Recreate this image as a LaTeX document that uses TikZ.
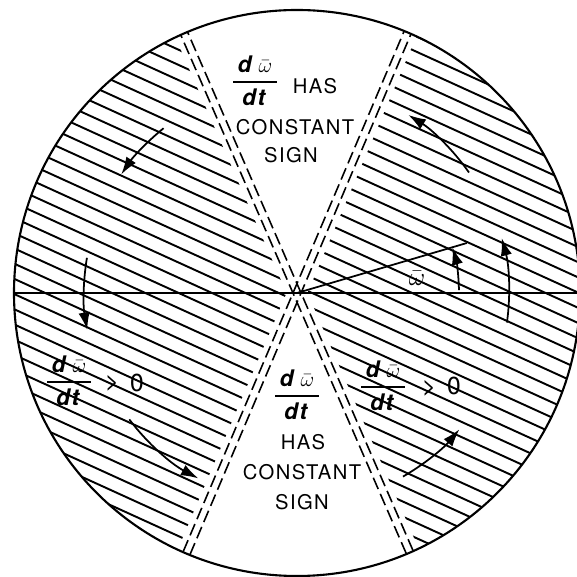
\documentclass[tikz,border=0pt]{standalone}
\usepackage{amsmath}
\usepackage{fontspec}
\setmainfont{TeX Gyre Heros}[LetterSpace=7]
\usetikzlibrary{arrows.meta,calc}

\newcommand{\dwdt}{$\genfrac{}{}{1.2pt}{0}{\hbox to 25pt{\hss\textit{d}\kern2.5pt$\bar\omega$\hss}}{\hbox{\textit{dt}}}$}

\tikzset{
    hatch/.style={line width=1.1pt},
    wedgeline/.style={line width=0.9pt, dash pattern=on 7pt off 3pt},
    rotarrow/.style={line width=1pt, -{Latex[length=10pt,width=6.5pt]}},
    lbl/.style={inner sep=0pt, font=\fontsize{11.5}{13}\selectfont},
    fraclbl/.style={inner sep=0pt, font=\fontsize{13}{15}\selectfont\bfseries},
    biglbl/.style={inner sep=0pt, font=\fontsize{14}{16}\selectfont}
}

\begin{document}
\begin{tikzpicture}[x=0.02cm,y=0.02cm]
                \useasboundingbox (-297,-284) rectangle (280,293);
                \coordinate (O) at (0,0);

                        % Hatched regions left and right
                            \begin{scope}
                                \clip (O) circle (283);
                                \clip (180.25:10.5) -- +(113.5:500) -- (-600,460) -- (-600,-460) -- ($(180.25:10.5)+(247:500)$) -- cycle;
                                \foreach \k in {-12,...,30} {
                                    \pgfmathsetmacro\hb{-129.9+15.2*\k}
                                    \draw[hatch] (-300,{136.7+\hb}) -- (300,{-136.7+\hb});
                                }
                            \end{scope}
                            \begin{scope}
                                \clip (O) circle (283);
                                \clip (0.25:10.5) -- +(67:500) -- (600,460) -- (600,-460) -- ($(0.25:10.5)+(-66.5:500)$) -- cycle;
                                \foreach \k in {-12,...,30} {
                                    \pgfmathsetmacro\hb{-129.9+15.2*\k}
                                    \draw[hatch] (-300,{136.7+\hb}) -- (300,{-136.7+\hb});
                                }
                            \end{scope}

                        % Double dashed lines bounding the white wedges
                            \begin{scope}
                                \clip (O) circle (283);
                                \foreach \s in {-3.7,3.7} {
                                    \draw[wedgeline] ($(113.5:-300)+(23.5:\s)$) -- ($(113.5:300)+(23.5:\s)$);
                                    \draw[wedgeline] ($(67:-300)+(157:\s)$) -- ($(67:300)+(157:\s)$);
                                }
                            \end{scope}

                            \draw[line width=1.2pt] (O) circle (283);

                        % Axis and the vector omega
                            \coordinate (xl) at (180:284);
                            \coordinate (xr) at (280,0);
                            \coordinate (w) at (16.4:177);
                            \draw[line width=1.4pt] (xl) -- (xr);
                            \draw[line width=1pt] (O) -- (w);
                            \node[biglbl] (wlbl) at (120,15) {$\bar\omega$};

                        % Sense of rotation
                            \draw[rotarrow] (129:212) arc[start angle=129, end angle=146, radius=212];
                            \draw[rotarrow] (170.5:213) arc[start angle=170.5, end angle=190, radius=213];
                            \draw[rotarrow] (217:210) arc[start angle=217, end angle=242, radius=210];
                            \draw[rotarrow] (-60:212) arc[start angle=-60, end angle=-40, radius=212];
                            \draw[rotarrow] (-8:212) arc[start angle=-8, end angle=15, radius=212];
                            \draw[rotarrow] (35:210) arc[start angle=35, end angle=58, radius=210];
                            \draw[rotarrow] (1:162) arc[start angle=1, end angle=16.4, radius=162];

                        % Labels
                            \node[fraclbl] (tfrac) at (-42,212) {\dwdt};
                            \node[lbl] (thas) at (18,207) {HAS};
                            \node[lbl] (tconst) at (-2,166) {CONSTANT};
                            \node[lbl] (tsign) at (-6,138) {SIGN};

                            \node[fraclbl] (bfrac) at (0,-102) {\dwdt};
                            \node[lbl] (bhas) at (6,-149) {HAS};
                            \node[lbl] (bconst) at (5,-179) {CONSTANT};
                            \node[lbl] (bsign) at (5,-209) {SIGN};

                            \node[fraclbl] (lfrac) at (-228,-88) {\dwdt};
                            \node[biglbl] (lgt) at (-185,-90) {>};
                            \node[biglbl] (lzero) at (-160,-90) {0};

                            \node[fraclbl] (rfrac) at (86,-93) {\dwdt};
                            \node[biglbl] (rgt) at (132,-95) {>};
                            \node[biglbl] (rzero) at (157,-93) {0};

\end{tikzpicture}
\end{document}
